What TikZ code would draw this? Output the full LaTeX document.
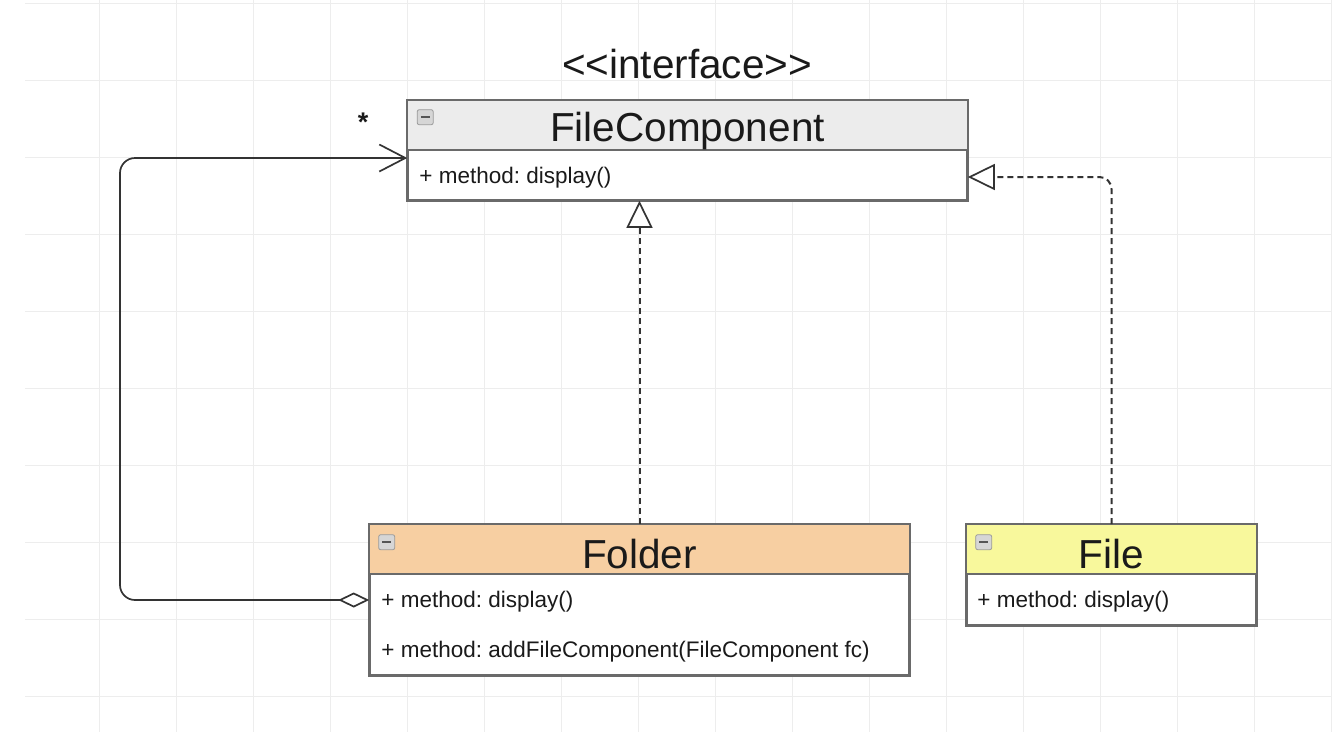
\documentclass[tikz,border=0pt]{standalone}
\usepackage{fontspec}
\setmainfont{Liberation Sans}
\usetikzlibrary{arrows.meta,calc}
\definecolor{gridc}{HTML}{EDEDED}
\definecolor{boxline}{HTML}{6A6A6A}
\definecolor{linec}{HTML}{333333}
\definecolor{ifacehdr}{HTML}{ECECEC}
\definecolor{folderhdr}{HTML}{F7CFA2}
\definecolor{filehdr}{HTML}{F8F89C}
\definecolor{iconfill}{HTML}{D6D6D6}
\definecolor{iconline}{HTML}{9A9A9A}
\definecolor{iconminus}{HTML}{555555}
\definecolor{textc}{HTML}{1A1A1A}
\frenchspacing

\begin{document}
\begin{tikzpicture}[x=1pt,y=-1pt,
  classbox/.style={draw=boxline, line width=1.6pt, fill=white, inner sep=0pt},
  outline/.style={draw=boxline, line width=1.6pt},
  titletext/.style={text=textc, inner sep=0pt, font=\fontsize{40.5}{45}\selectfont},
  methodtext/.style={text=textc, inner sep=0pt, anchor=west, font=\fontsize{22.5}{26}\selectfont},
  iconbox/.style={draw=iconline, fill=iconfill, line width=0.8pt, rounded corners=2pt, minimum width=16pt, minimum height=15pt, inner sep=0pt},
  iconbar/.style={draw=iconminus, line width=1.8pt},
  conn/.style={draw=linec, line width=1.7pt},
  realize/.style={draw=linec, line width=2pt, dash pattern=on 6pt off 4pt, -{Triangle[fill=white, length=27pt, width=26pt, line width=1.7pt]}},
]
\useasboundingbox (0,0) rectangle (1332,732);
\fill[white] (0,0) rectangle (1332,732);

% background grid
\foreach \y in {3,80,...,696} \draw[gridc, line width=1pt] (25,\y) -- (1332,\y);
\foreach \x in {99,176,...,1331} \draw[gridc, line width=1pt] (\x,0) -- (\x,732);

% ---------- FileComponent ----------
\node[classbox, minimum width=559pt, minimum height=99pt] (fc) at (687.5,150.5) {};
\fill[ifacehdr] (fc.north west) rectangle ($(fc.north east)+(0,50)$);
\draw[outline] (fc.north west) rectangle (fc.south east);
\draw[outline] ($(fc.north west)+(0,50)$) -- ($(fc.north east)+(0,50)$);
\node[titletext] (fcname) at ($(fc.north)+(0,30.5)$) {FileComponent};
\node[titletext] (fcstereo) at (687,64) {\textless\kern0pt\textless interface\textgreater\kern0pt\textgreater};
\node[methodtext] (fcm1) at ($(fc.west)+(12,27.5)$) {+ method: display()};
\node[iconbox] (fcicon) at ($(fc.north west)+(18,17)$) {};
\draw[iconbar] ($(fcicon.west)+(4,0)$) -- ($(fcicon.east)+(-4,0)$);

% ---------- Folder ----------
\node[classbox, minimum width=539pt, minimum height=150pt] (folder) at (639.5,600) {};
\fill[folderhdr] (folder.north west) rectangle ($(folder.north east)+(0,50)$);
\draw[outline] (folder.north west) rectangle (folder.south east);
\draw[outline] ($(folder.north west)+(0,50)$) -- ($(folder.north east)+(0,50)$);
\node[titletext] (foldername) at ($(folder.north)+(0,29.5)$) {Folder};
\node[methodtext] (folderm1) at ($(folder.west)+(12,2)$) {+ method: display()};
\node[methodtext] (folderm2) at ($(folder.west)+(12,52)$) {+ method: addFileComponent(FileComponent fc)};
\node[iconbox] (foldericon) at ($(folder.north west)+(17.5,18)$) {};
\draw[iconbar] ($(foldericon.west)+(4,0)$) -- ($(foldericon.east)+(-4,0)$);

% ---------- File ----------
\node[classbox, minimum width=289pt, minimum height=100pt] (file) at (1111.5,575) {};
\fill[filehdr] (file.north west) rectangle ($(file.north east)+(0,50)$);
\draw[outline] (file.north west) rectangle (file.south east);
\draw[outline] ($(file.north west)+(0,50)$) -- ($(file.north east)+(0,50)$);
\node[titletext] (filename) at ($(file.north)+(0,29.5)$) {File};
\node[methodtext] (filem1) at ($(file.west)+(11,27)$) {+ method: display()};
\node[iconbox] (fileicon) at ($(file.north west)+(17.5,18)$) {};
\draw[iconbar] ($(fileicon.west)+(4,0)$) -- ($(fileicon.east)+(-4,0)$);

% ---------- connectors ----------
\coordinate (aggbend) at (120,158);
\draw[conn, rounded corners=15pt,
      {Diamond[fill=white, length=31pt, width=15pt]}-{Straight Barb[length=26pt, width=27pt]}]
  (folder.west) -| (aggbend) -- (aggbend -| fc.west);
\node[text=textc, inner sep=0pt, font=\bfseries\fontsize{27}{30}\selectfont] (mult) at (363,122) {*};

\draw[realize] (folder.north) -- (folder.north |- fc.south);
\draw[realize, rounded corners=12pt] (file.north) |- ($(fc.east)+(0,26.5)$);
\end{tikzpicture}
\end{document}
